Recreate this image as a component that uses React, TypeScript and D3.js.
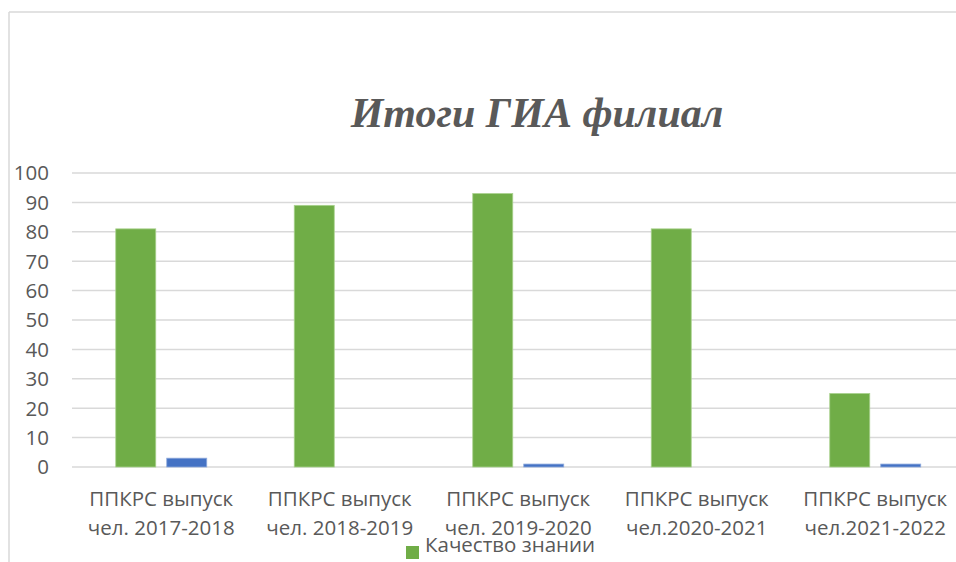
import React from "react";
import * as d3 from "d3";

const categories = [
  ["ППКРС выпуск", "чел. 2017-2018"],
  ["ППКРС выпуск", "чел. 2018-2019"],
  ["ППКРС выпуск", "чел. 2019-2020"],
  ["ППКРС выпуск", "чел.2020-2021"],
  ["ППКРС выпуск", "чел.2021-2022"],
];
const quality = [81, 89, 93, 81, 25];
const secondSeries = [3, 0, 1, 0, 1];
const yTicks = [0, 10, 20, 30, 40, 50, 60, 70, 80, 90, 100];
const title = "Итоги ГИА филиал";
const legendLabel = "Качество знании";

const W = 956;
const H = 562;
const FONT = "'Open Sans', 'Noto Sans', sans-serif";

export default function App() {
  const x0 = d3.scaleBand<number>().domain(d3.range(categories.length)).range([72, 964.5]).padding(0);
  const x1 = d3
    .scaleBand<string>()
    .domain(["g", "b"])
    .range([0, x0.bandwidth()])
    .paddingInner(11 / 51)
    .paddingOuter(0.858);
  const y = d3.scaleLinear().domain([0, 100]).range([467, 173]);

  return (
    <svg width={W} height={H} style={{ position: "absolute", left: 0, top: 0, background: "#fff" }}>
      {/* chart border */}
      <line x1={9} x2={W} y1={12} y2={12} stroke="#d9d9d9" strokeWidth={1.5} />
      <line x1={9} x2={9} y1={12} y2={H} stroke="#d9d9d9" strokeWidth={1.5} />

      <text
        x={537}
        y={127}
        textAnchor="middle"
        fontFamily="'Liberation Serif', 'Times New Roman', serif"
        fontStyle="italic"
        fontWeight="bold"
        fontSize={42}
        fill="#595959"
      >
        {title}
      </text>

      {yTicks.map((t) => (
        <g key={t}>
          <line x1={72} x2={W} y1={y(t)} y2={y(t)} stroke="#d9d9d9" strokeWidth={1.5} />
          <text x={49} y={y(t)} dy="0.36em" textAnchor="end" fontFamily={FONT} fontSize={20.5} fill="#595959">
            {t}
          </text>
        </g>
      ))}

      {categories.map((c, i) => {
        const cx = (x0(i) as number) + x0.bandwidth() / 2;
        return (
          <g key={i}>
            <rect
              x={(x0(i) as number) + (x1("g") as number)}
              y={y(quality[i])}
              width={x1.bandwidth()}
              height={y(0) - y(quality[i])}
              fill="#70ad47"
              stroke="#a9d18e"
              strokeWidth={0.8}
            />
            {secondSeries[i] > 0 && (
              <rect
                x={(x0(i) as number) + (x1("b") as number)}
                y={y(secondSeries[i])}
                width={x1.bandwidth()}
                height={y(0) - y(secondSeries[i])}
                fill="#4472c4"
                stroke="#8faadc"
                strokeWidth={0.8}
              />
            )}
            <text x={cx} y={505.5} textAnchor="middle" fontFamily={FONT} fontSize={20.5} fill="#595959">
              {c[0]}
            </text>
            <text x={cx} y={535} textAnchor="middle" fontFamily={FONT} fontSize={20.5} fill="#595959">
              {c[1]}
            </text>
          </g>
        );
      })}

      <rect x={406} y={546} width={13} height={13} fill="#70ad47" />
      <text x={425} y={552} fontFamily={FONT} fontSize={20.5} fill="#595959">
        {legendLabel}
      </text>
    </svg>
  );
}
